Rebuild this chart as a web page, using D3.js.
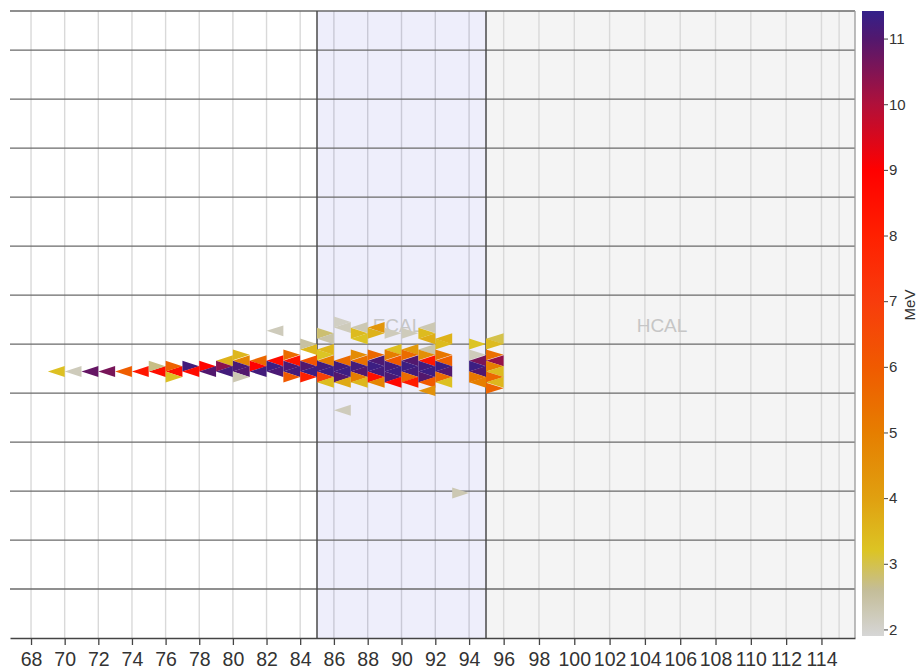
<!DOCTYPE html>
<meta charset="utf-8">
<style>
  body { margin: 0; background: #fff; }
  svg { display: block; font-family: "Liberation Sans", Arial, sans-serif; }
</style>
<svg width="920" height="670"></svg>
<script src="https://cdn.jsdelivr.net/npm/d3@7"></script>
<script>

// layer ticks along the beam axis
var xTicks = [68, 70, 72, 74, 76, 78, 80, 82, 84, 86, 88, 90, 92, 94, 96, 98, 100, 102, 104, 106, 108, 110, 112, 114];
// horizontal grid rows
var yGrid = [-5, -4, -3, -2, -1, 0, 1, 2, 3, 4, 5, 6];
var cbTicks = [2, 3, 4, 5, 6, 7, 8, 9, 10, 11];

// detector regions [start layer, end layer]
var ecal = [85, 95];
var hcal = [95, 115.9];

// hits: [layer, y, energy (MeV), orientation]
var trackHits = [
  [69, -0.56, 3.3, "L"], [70, -0.56, 2.2, "L"], [71, -0.56, 10.8, "L"], [72, -0.56, 10.6, "L"],
  [73, -0.56, 5.9, "L"], [74, -0.56, 8.3, "L"], [75, -0.56, 8.6, "L"], [75, -0.45, 2.7, "R"]
];

var preShowerHits = [
  [76, -0.56, 8.5, "L"], [76, -0.45, 5.8, "R"], [76, -0.67, 3.3, "R"],
  [77, -0.45, 11.2, "R"], [77, -0.56, 8.7, "L"],
  [78, -0.45, 8.9, "R"], [78, -0.56, 11.0, "L"],
  [79, -0.34, 3.6, "L"], [79, -0.45, 10.4, "R"], [79, -0.56, 11.2, "L"],
  [80, -0.34, 4.8, "L"], [80, -0.22, 3.5, "R"], [80, -0.45, 11.1, "R"], [80, -0.56, 11.0, "L"], [80, -0.67, 2.3, "R"],
  [81, -0.34, 5.6, "L"], [81, -0.45, 9.0, "R"], [81, -0.56, 11.2, "L"],
  [82, 0.27, 2.2, "L"], [82, -0.34, 8.6, "L"], [82, -0.45, 11.3, "R"], [82, -0.56, 11.1, "L"],
  [83, -0.22, 5.5, "R"], [83, -0.34, 8.4, "L"], [83, -0.45, 11.1, "R"], [83, -0.56, 11.2, "L"], [83, -0.67, 6.0, "R"],
  [84, -0.11, 3.5, "L"], [84, 0.00, 2.5, "R"], [84, -0.34, 6.2, "L"], [84, -0.45, 11.0, "R"], [84, -0.56, 11.3, "L"], [84, -0.67, 8.0, "R"]
];

var ecalHits = [
  [85, 0.22, 2.8, "R"], [85, 0.11, 2.4, "L"], [85, -0.11, 3.5, "L"], [85, -0.22, 3.2, "R"], [85, -0.34, 5.0, "L"],
  [85, -0.45, 11.2, "R"], [85, -0.56, 11.3, "L"], [85, -0.67, 6.8, "R"], [85, -0.78, 3.4, "L"],
  [86, 0.45, 2.1, "R"], [86, 0.34, 2.2, "L"], [86, -0.34, 5.5, "L"], [86, -0.45, 11.2, "R"], [86, -0.56, 11.3, "L"],
  [86, -0.67, 11.0, "R"], [86, -0.78, 3.8, "L"], [86, -1.35, 2.2, "L"],
  [87, 0.34, 2.3, "L"], [87, 0.22, 3.4, "R"], [87, 0.11, 3.2, "L"], [87, -0.22, 4.6, "R"], [87, -0.34, 5.4, "L"],
  [87, -0.45, 11.2, "R"], [87, -0.56, 11.0, "L"], [87, -0.67, 5.0, "R"], [87, -0.78, 3.5, "L"],
  [88, 0.34, 4.3, "L"], [88, 0.22, 3.6, "R"], [88, -0.22, 5.6, "R"], [88, -0.34, 11.1, "L"], [88, -0.45, 11.3, "R"],
  [88, -0.56, 11.2, "L"], [88, -0.67, 8.5, "R"], [88, -0.78, 4.8, "L"],
  [89, 0.22, 2.2, "R"], [89, -0.11, 3.3, "L"], [89, -0.22, 5.0, "R"], [89, -0.34, 6.0, "L"], [89, -0.45, 11.2, "R"],
  [89, -0.56, 11.3, "L"], [89, -0.67, 11.1, "R"], [89, -0.78, 8.8, "L"],
  [90, 0.22, 2.2, "R"], [90, -0.11, 4.2, "L"], [90, -0.22, 5.5, "R"], [90, -0.34, 11.0, "L"], [90, -0.45, 11.3, "R"],
  [90, -0.56, 11.2, "L"], [90, -0.67, 5.5, "R"], [90, -0.78, 8.2, "L"],
  [91, 0.34, 2.3, "L"], [91, 0.22, 3.4, "R"], [91, 0.11, 3.7, "L"], [91, -0.11, 2.4, "L"], [91, -0.22, 4.5, "R"],
  [91, -0.34, 8.3, "L"], [91, -0.45, 11.2, "R"], [91, -0.56, 11.3, "L"], [91, -0.67, 11.0, "R"], [91, -0.78, 6.0, "L"],
  [91, -0.95, 4.4, "L"],
  [92, 0.11, 3.6, "L"], [92, 0.00, 3.4, "R"], [92, -0.22, 5.2, "R"], [92, -0.34, 5.8, "L"], [92, -0.45, 11.3, "R"],
  [92, -0.56, 11.0, "L"], [92, -0.67, 5.5, "R"], [92, -0.78, 3.3, "L"],
  [93, -3.04, 2.3, "R"],
  [94, 0.00, 3.2, "R"], [94, -0.22, 2.2, "R"], [94, -0.34, 10.6, "L"], [94, -0.45, 11.3, "R"], [94, -0.56, 11.0, "L"],
  [94, -0.67, 5.2, "R"], [94, -0.78, 5.0, "L"]
];

var hcalHits = [
  [95, 0.11, 3.0, "L"], [95, 0.00, 3.4, "R"], [95, -0.22, 5.4, "R"], [95, -0.34, 10.3, "L"], [95, -0.45, 5.0, "R"],
  [95, -0.56, 3.4, "L"], [95, -0.67, 5.6, "R"], [95, -0.78, 3.5, "L"], [95, -0.90, 5.7, "R"]
];

// colour map stops (MeV -> colour)
var cStops = [1.9, 2.6, 3.2, 4.0, 5.0, 6.0, 7.0, 8.0, 9.0, 10.0, 11.0, 11.42];
var cColors = ["#d6d6d6", "#c4bd98", "#dcc424", "#e0a010", "#e67e00", "#f05a00", "#f83c0c", "#ff2000", "#ff0000", "#b0103a", "#52186e", "#33208a"];

var svg = d3.select("svg"),
    pLeft = 10, pRight = 855, pTop = 11, pBottom = 638;

var x = d3.scaleLinear()
    .domain([66.75, ecal[0], ecal[1], hcal[1]])
    .range([pLeft, 317, 486, pRight]);

var y = d3.scaleLinear()
    .domain([-6, 6.8])
    .range([pBottom, pTop]);

var color = d3.scaleLinear()
    .domain(cStops)
    .range(cColors)
    .interpolate(d3.interpolateRgb);

var halfH = 0.112;

// regions
svg.append("rect")
    .attr("x", x(ecal[0])).attr("y", pTop)
    .attr("width", x(ecal[1]) - x(ecal[0])).attr("height", pBottom - pTop)
    .attr("fill", "#eeeefb");
svg.append("rect")
    .attr("x", x(hcal[0])).attr("y", pTop)
    .attr("width", x(hcal[1]) - x(hcal[0])).attr("height", pBottom - pTop)
    .attr("fill", "#f4f4f4");

// vertical grid
svg.append("g")
  .selectAll("line")
  .data(xTicks.concat([115]))
  .enter().append("line")
    .attr("x1", x).attr("x2", x)
    .attr("y1", pTop).attr("y2", pBottom)
    .attr("stroke", function(d) { return d > ecal[0] && d < ecal[1] ? "#c9c9d6" : "#d9d9d9"; })
    .attr("stroke-width", 1.4);

// horizontal grid
svg.append("g")
  .selectAll("line")
  .data(yGrid.concat([6.8]))
  .enter().append("line")
    .attr("x1", pLeft).attr("x2", pRight)
    .attr("y1", y).attr("y2", y)
    .attr("stroke", "#6a6a6a")
    .attr("stroke-width", 1.3);

// region borders
svg.append("g")
  .selectAll("line")
  .data([ecal[0], ecal[1]])
  .enter().append("line")
    .attr("x1", x).attr("x2", x)
    .attr("y1", pTop).attr("y2", pBottom)
    .attr("stroke", "#4a4a4a")
    .attr("stroke-width", 1.5);

svg.append("line")
    .attr("x1", pRight).attr("x2", pRight)
    .attr("y1", pTop).attr("y2", pBottom)
    .attr("stroke", "#9a9a9a")
    .attr("stroke-width", 1.3);

// region labels
svg.append("text")
    .attr("x", (x(ecal[0]) + x(ecal[1])) / 2 - 4).attr("y", 332)
    .attr("text-anchor", "middle").attr("font-size", 19)
    .attr("fill", "#c6c6c6")
    .text("ECAL");
svg.append("text")
    .attr("x", 662).attr("y", 332)
    .attr("text-anchor", "middle").attr("font-size", 19)
    .attr("fill", "#c6c6c6")
    .text("HCAL");

// hits
var hits = trackHits.concat(preShowerHits, ecalHits, hcalHits);

svg.append("g")
  .selectAll("path")
  .data(hits)
  .enter().append("path")
    .attr("d", function(d) {
      var x0 = x(d[0]), x1 = x(d[0] + 1),
          yc = y(d[1]), y0 = y(d[1] + halfH), y1 = y(d[1] - halfH);
      if (d[3] === "L") return "M" + x0 + "," + yc + "L" + x1 + "," + y0 + "L" + x1 + "," + y1 + "Z";
      return "M" + x1 + "," + yc + "L" + x0 + "," + y0 + "L" + x0 + "," + y1 + "Z";
    })
    .attr("fill", function(d) { return color(d[2]); });

// x axis
var xAxis = svg.append("g")
    .attr("transform", "translate(0," + pBottom + ")")
    .call(d3.axisBottom(x).tickValues(xTicks).tickSize(7).tickSizeOuter(0).tickFormat(d3.format("d")));
xAxis.select(".domain").attr("stroke", "#444").attr("stroke-width", 1.5);
xAxis.selectAll(".tick line").attr("stroke", "#444").attr("stroke-width", 1.3);
xAxis.selectAll(".tick text")
    .attr("font-size", 19.5)
    .attr("font-family", "Liberation Sans, Arial, sans-serif")
    .attr("fill", "#333")
    .attr("y", 14)
    .attr("dy", "0.71em");

// colour bar
var cbX = 862, cbW = 22;
var cy = d3.scaleLinear()
    .domain([cStops[0], cStops[cStops.length - 1]])
    .range([636, 11]);

var grad = svg.append("defs").append("linearGradient")
    .attr("id", "cbgrad")
    .attr("x1", 0).attr("y1", 1).attr("x2", 0).attr("y2", 0);
grad.selectAll("stop")
  .data(cStops)
  .enter().append("stop")
    .attr("offset", function(d) { return (d - cStops[0]) / (cStops[cStops.length - 1] - cStops[0]); })
    .attr("stop-color", function(d) { return color(d); });

svg.append("rect")
    .attr("x", cbX).attr("y", cy.range()[1])
    .attr("width", cbW).attr("height", cy.range()[0] - cy.range()[1])
    .attr("fill", "url(#cbgrad)");

var cAxis = svg.append("g")
    .attr("transform", "translate(" + (cbX + cbW) + ",0)")
    .call(d3.axisRight(cy).tickValues(cbTicks).tickSize(4).tickPadding(1));
cAxis.select(".domain").remove();
cAxis.selectAll(".tick line").attr("stroke", "#444");
cAxis.selectAll(".tick text")
    .attr("font-size", 15)
    .attr("font-family", "Liberation Sans, Arial, sans-serif")
    .attr("fill", "#333");

svg.append("text")
    .attr("transform", "translate(915,305)rotate(-90)")
    .attr("text-anchor", "middle")
    .attr("font-size", 15)
    .attr("fill", "#333")
    .text("MeV");

</script>
